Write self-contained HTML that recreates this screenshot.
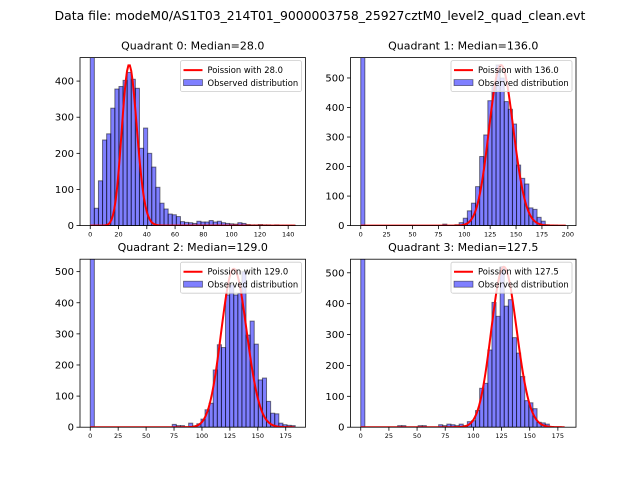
<!DOCTYPE html>
<html><head><meta charset="utf-8"><style>
body{margin:0;background:#fff;}
svg{display:block;font-family:"DejaVu Sans","Liberation Sans",sans-serif;}
</style></head><body>
<svg id="fig" width="640" height="480" viewBox="0 0 640 480">
<rect width="640" height="480" fill="#fff"/>
<text x="320" y="20" font-size="12.4" text-anchor="middle">Data file: modeM0/AS1T03_214T01_9000003758_25927cztM0_level2_quad_clean.evt</text>
</svg>
<script>
const titles=["Quadrant 0: Median=28.0","Quadrant 1: Median=136.0","Quadrant 2: Median=129.0","Quadrant 3: Median=127.5"];
const lambdas=[28.0,136.0,129.0,127.5];
const poissonScale=[5900,15900,14500,14700];
const binWidths=[2.9,3.96,3.67,3.64];
const counts0=[600,48,124,237,254,325,378,385,402,424,405,380,214,270,200,162,106,62,46,32,30,25,11,9,8,6,12,10,10,14,10,12,8,6,5,4,8,6,3,2,2,3,2,2,1,2,1,1,1,1];
const counts1=[620,0,0,0,0,0,0,0,0,0,0,0,0,0,0,0,0,0,0,0,5,0,0,3,10,25,50,76,132,234,307,423,476,544,500,420,394,344,205,160,141,60,55,28,15,3,2,2,0,0];
const counts2=[600,0,0,0,0,0,0,0,0,0,0,0,0,0,0,0,0,0,0,0,9,5,5,0,13,4,11,26,56,77,184,265,256,425,458,425,430,500,296,341,267,152,158,83,45,43,13,8,6,5];
const counts3=[600,0,0,0,0,0,0,0,0,5,5,0,0,0,5,5,0,0,0,8,5,10,8,5,10,5,18,21,54,126,142,250,404,359,520,392,413,290,240,164,86,79,60,16,14,10,0,0,0,0];
const allCounts=[counts0,counts1,counts2,counts3];
const xTicks=[[0,20,40,60,80,100,120,140],[0,25,50,75,100,125,150,175,200],[0,25,50,75,100,125,150,175],[0,25,50,75,100,125,150,175]];
const yTicks=[[0,100,200,300,400],[0,100,200,300,400,500],[0,100,200,300,400,500],[0,100,200,300,400,500]];
const xLims=[[-7.25,152.25],[-9.9,207.9],[-9.18,192.7],[-9.1,191.1]];
const yMax=[465,569,540,544];
const curveMax=[145,198,183,181];

const NS="http://www.w3.org/2000/svg";
const svg=document.getElementById('fig');
function mk(tag,attrs,parent){const e=document.createElementNS(NS,tag);for(const k in attrs)e.setAttribute(k,attrs[k]);(parent||svg).appendChild(e);return e;}
function lgamma(n){let s=0;for(let i=2;i<=n;i++)s+=Math.log(i);return s;}
const boxes=[[80,57.6],[350.5,57.6],[80,259.2],[350.5,259.2]];
const W=225.5,H=168;
for(let q=0;q<4;q++){
  const [L,T]=boxes[q];
  const g=mk('g',{});
  
  
  const xs=v=>L+(v-xLims[q][0])/(xLims[q][1]-xLims[q][0])*W;
  const ys=v=>T+H-v/yMax[q]*H;
  const cid='clip'+q;
  const cp=mk('clipPath',{id:cid},g);mk('rect',{x:L,y:T,width:W,height:H},cp);
  const bars=mk('g',{'clip-path':'url(#'+cid+')'},g);
  allCounts[q].forEach((c,i)=>{
    if(c<=0)return;
    const x0=xs(i*binWidths[q]),x1=xs((i+1)*binWidths[q]);
    const r=mk('rect',{x:x0,y:ys(c),width:x1-x0,height:ys(0)-ys(c),fill:'rgba(0,0,255,0.5)',stroke:'rgba(0,0,0,0.5)','stroke-width':1},bars);
    
    
  });
  let d='';
  for(let k=0;k<=curveMax[q];k++){
    const lam=lambdas[q];
    const p=Math.exp(k*Math.log(lam)-lam-(k<2?0:lgamma(k)));
    d+=(k?'L':'M')+xs(k).toFixed(2)+','+ys(p*poissonScale[q]).toFixed(2);
  }
  const pl=mk('path',{d:d,fill:'none',stroke:'red','stroke-width':2,'clip-path':'url(#'+cid+')'},g);
  
  
  mk('rect',{x:L,y:T,width:W,height:H,fill:'none',stroke:'#000','stroke-width':0.8},g);
  xTicks[q].forEach(t=>{
    const x=xs(t);
    mk('line',{x1:x,x2:x,y1:T+H,y2:T+H+3.5,stroke:'#000','stroke-width':0.8},g);
    const tx=mk('text',{x:x,y:T+H+11,'font-size':6.5,'text-anchor':'middle'},g);tx.textContent=t;
    
    
  });
  yTicks[q].forEach(t=>{
    const y=ys(t);
    mk('line',{x1:L-3.5,x2:L,y1:y,y2:y,stroke:'#000','stroke-width':0.8},g);
    const tx=mk('text',{x:L-6,y:y+3.5,'font-size':10,'text-anchor':'end'},g);tx.textContent=t;
    
    
  });
  const tt=mk('text',{x:L+W/2,y:T-8,'font-size':11,'text-anchor':'middle'},g);tt.textContent=titles[q];
  
  
  const lg=mk('g',{},g);
  
  
  const lx=L+W-125,ly=T+3;
  mk('rect',{x:lx,y:ly,width:121,height:31,fill:'rgba(255,255,255,0.8)',stroke:'#ccc','stroke-width':0.8,rx:2},lg);
  mk('line',{x1:lx+3,x2:lx+22,y1:ly+9.5,y2:ly+9.5,stroke:'red','stroke-width':2},lg);
  const t1=mk('text',{x:lx+27,y:ly+12.5,'font-size':8.4},lg);t1.textContent='Poission with '+lambdas[q].toFixed(1);
  mk('rect',{x:lx+3,y:ly+19,width:19,height:6,fill:'rgba(0,0,255,0.5)',stroke:'rgba(0,0,0,0.5)','stroke-width':0.8},lg);
  const t2=mk('text',{x:lx+27,y:ly+25.5,'font-size':8.4},lg);t2.textContent='Observed distribution';
}
</script>
</body></html>
